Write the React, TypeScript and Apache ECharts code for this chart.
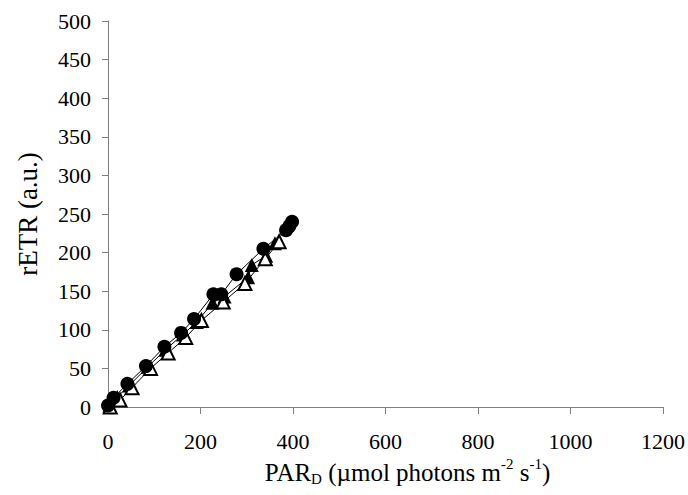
import React, { useEffect, useRef } from "react";
import * as echarts from "echarts";

// Series data: [PAR_D, rETR]
const filledCircles: [number, number][] = [
  [0, 2], [12, 12], [42, 30], [82, 53], [122, 78], [158, 96], [186, 114],
  [228, 146], [245, 146], [278, 172], [336, 205], [385, 229], [392, 234], [398, 240],
];
const openTriangles: [number, number][] = [
  [5, 0], [26, 9], [52, 25], [92, 50], [130, 70], [168, 90], [202, 112],
  [249, 136], [296, 160], [340, 192], [370, 214],
];
const filledTriangles: [number, number][] = [
  [3, 2], [20, 13], [46, 28], [86, 52], [124, 74], [162, 94], [192, 110],
  [226, 135], [252, 143], [303, 168], [311, 184], [342, 196], [361, 212],
];

const xTicks = { min: 0, max: 1200, interval: 200 };
const yTicks = { min: 0, max: 500, interval: 50 };

const FONT = "Liberation Serif";

export default function App() {
  const ref = useRef<HTMLDivElement>(null);
  useEffect(() => {
    if (!ref.current) return;
    const chart = echarts.init(ref.current, undefined, { renderer: "svg" });
    const axisColor = "#808080";
    const tickLabel = (v: number) => "{t|" + String(v) + "}";
    const tickRich = { t: { fontFamily: FONT, fontSize: 22, color: "#000" } };
    chart.setOption({
      animation: false,
      backgroundColor: "#ffffff",
      textStyle: { fontFamily: FONT },
      grid: { left: 108, right: 25, top: 21, bottom: 88 },
      xAxis: {
        type: "value",
        min: xTicks.min,
        max: xTicks.max,
        interval: xTicks.interval,
        splitLine: { show: false },
        axisLine: { show: true, lineStyle: { color: axisColor, width: 1 } },
        axisTick: { show: true, length: 7, lineStyle: { color: axisColor } },
        axisLabel: {
          color: "#000", fontFamily: FONT, fontSize: 22, margin: 23,
          formatter: tickLabel, rich: tickRich,
        },
        name: "{a|PAR}{sub|D}{a| (µmol photons m}{sup|-2}{a| s}{sup|-1}{a|)}",
        nameLocation: "middle",
        nameGap: 49,
        nameTextStyle: {
          fontFamily: FONT,
          padding: [0, 0, 0, 44],
          rich: {
            a: { fontFamily: FONT, fontSize: 25, color: "#000", lineHeight: 28 },
            sub: {
              fontFamily: FONT, fontSize: 15, color: "#000", lineHeight: 28,
              verticalAlign: "bottom",
            },
            sup: {
              fontFamily: FONT, fontSize: 15, color: "#000", lineHeight: 28,
              verticalAlign: "top", padding: [-2, 0, 0, 0],
            },
          },
        },
      },
      yAxis: {
        type: "value",
        min: yTicks.min,
        max: yTicks.max,
        interval: yTicks.interval,
        splitLine: { show: false },
        axisLine: { show: true, lineStyle: { color: axisColor, width: 1 } },
        axisTick: { show: true, length: 6, lineStyle: { color: axisColor } },
        axisLabel: {
          color: "#000", fontFamily: FONT, fontSize: 22, margin: 17,
          formatter: tickLabel, rich: tickRich,
        },
        name: "rETR (a.u.)",
        nameLocation: "middle",
        nameGap: 67,
        nameTextStyle: { fontFamily: FONT, fontSize: 27, color: "#000", lineHeight: 27 },
      },
      series: [
        {
          type: "line",
          data: filledTriangles,
          symbol: "triangle",
          symbolSize: 14,
          itemStyle: { color: "#000" },
          lineStyle: { color: "#000", width: 1 },
        },
        {
          type: "line",
          data: openTriangles,
          symbol: "triangle",
          symbolSize: 13,
          itemStyle: { color: "#fff", borderColor: "#000", borderWidth: 2 },
          lineStyle: { color: "#000", width: 1 },
        },
        {
          type: "line",
          data: filledCircles,
          symbol: "circle",
          symbolSize: 14,
          itemStyle: { color: "#000" },
          lineStyle: { color: "#000", width: 1 },
        },
      ],
    });
    return () => chart.dispose();
  }, []);
  return <div ref={ref} style={{ width: 688, height: 495, position: "absolute", left: 0, top: 0 }} />;
}
